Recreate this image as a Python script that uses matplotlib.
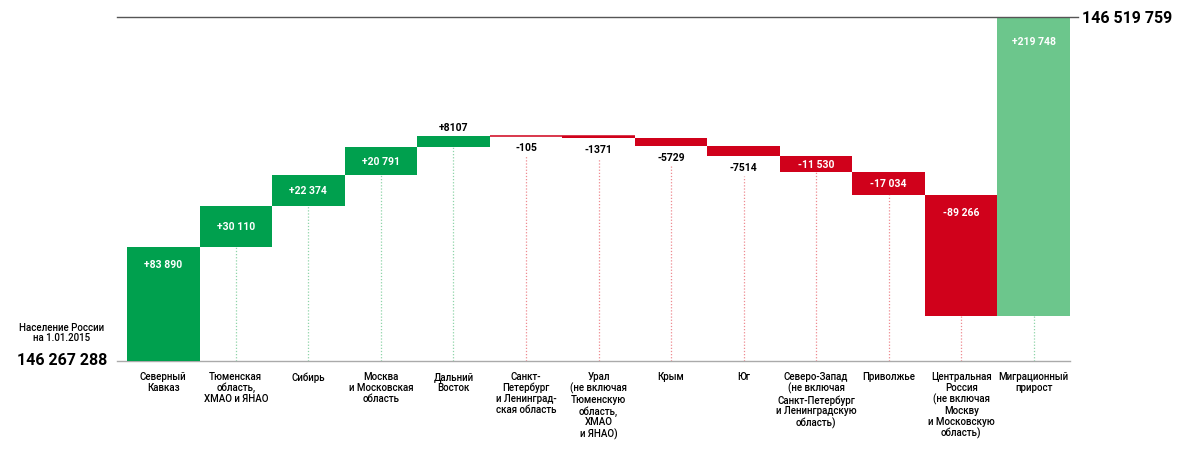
import matplotlib
matplotlib.use('Agg')
import matplotlib.pyplot as plt

plt.rcParams['font.family'] = ['Roboto', 'DejaVu Sans']

# данные
start = 146267288
end = 146519759
regions = ['Северный\nКавказ', 'Тюменская\nобласть,\nХМАО и ЯНАО', 'Сибирь',
           'Москва\nи Московская\nобласть', 'Дальний\nВосток',
           'Санкт-\nПетербург\nи Ленинград-\nская область',
           'Урал\n(не включая\nТюменскую\nобласть,\nХМАО\nи ЯНАО)', 'Крым', 'Юг',
           'Северо-Запад\n(не включая\nСанкт-Петербург\nи Ленинградскую\nобласть)',
           'Приволжье',
           'Центральная\nРоссия\n(не включая\nМоскву\nи Московскую\nобласть)',
           'Миграционный\nприрост']
changes = [83890, 30110, 22374, 20791, 8107, -105, -1371, -5729, -7514,
           -11530, -17034, -89266, 219748]
labels = ['+83 890', '+30 110', '+22 374', '+20 791', '+8107', '-105', '-1371',
          '-5729', '-7514', '-11 530', '-17 034', '-89 266', '+219 748']
# где подпись: top - внутри у верха, mid - в центре, above - над, below - под
label_pos = ['top', 'mid', 'mid', 'mid', 'above', 'below', 'below', 'below',
             'below', 'mid', 'mid', 'top', 'top']

green = '#00A04E'
red = '#D0011B'
lightgreen = '#6CC68C'

W, H = 1186, 452
fig = plt.figure(figsize=(W/100, H/100), dpi=100)
ax = fig.add_axes([127/W, 90/H, 943/W, 344/H])
ax.set_xlim(-0.5, 12.5)
ax.set_ylim(start, end)
ax.axis('off')

px = (end - start) / 344.0   # единиц данных на пиксель
bw = 943 / 13.0              # пикселей на столбец

cum = start
for i, d in enumerate(changes):
    bottom = cum if d > 0 else cum + d
    top = cum + d if d > 0 else cum
    if i == len(changes) - 1:
        c = lightgreen
    else:
        c = green if d > 0 else red
    ax.bar(i, top - bottom, bottom=bottom, width=1.0, color=c, linewidth=0)
    if (top - bottom) < 2 * px:
        # тонкая полоска, чтобы маленький столбец был виден
        ax.plot([i - 0.5, i + 0.5], [top, top], color=c, linewidth=1.1,
                solid_capstyle='butt')
    # подпись значения
    mode = label_pos[i]
    if mode == 'top':
        off = 24 if i == len(changes) - 1 else 17
        y = top - off * px
        col = 'white'
    elif mode == 'mid':
        y = (top + bottom) / 2
        col = 'white'
    elif mode == 'above':
        y = top + 9 * px
        col = 'black'
    else:
        y = bottom - 11 * px
        col = 'black'
    ax.text(i, y, labels[i], ha='center', va='center', fontsize=7.5,
            fontweight='bold', color=col)
    # пунктир до основания
    ls = bottom
    if mode == 'below':
        ls = bottom - 20 * px
    if ls - start > 2 * px:
        lc = '#8fd4a8' if d > 0 else '#ee8a90'
        ax.plot([i, i], [start, ls], color=lc, linewidth=0.9,
                linestyle=(0, (1, 1.5)), zorder=0)
    cum += d

# основание и итоговая линия
x0 = -0.5 - 10 / bw
ax.plot([x0, 12.5], [start, start], color='#aaaaaa', linewidth=1, clip_on=False, zorder=0)
ax.plot([x0, 12.5 + 8 / bw], [end, end], color='#555555', linewidth=1, clip_on=False)
ax.text(12.5 + 12 / bw, end, '146 519 759', ha='left', va='center', fontsize=11.5,
        fontweight='bold', clip_on=False)

# подписи категорий
for i, r in enumerate(regions):
    ax.text(i, start - 10 * px, r, ha='center', va='top', fontsize=7,
            fontweight='medium', linespacing=1.1, clip_on=False)

fig.text(62 / W, 1 - 333 / H, 'Население России\nна 1.01.2015', ha='center', va='center',
         fontsize=7, fontweight='medium', linespacing=1.1)
fig.text(62 / W, 1 - 361 / H, '146 267 288', ha='center', va='center',
         fontsize=11.5, fontweight='bold')

fig.savefig('out.png', dpi=100)
